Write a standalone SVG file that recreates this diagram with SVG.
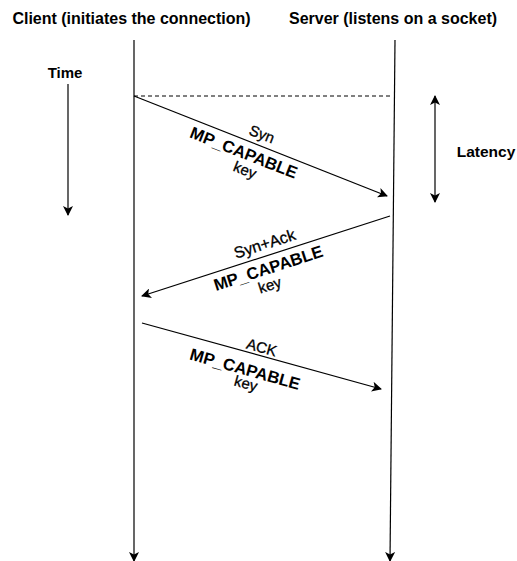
<svg xmlns="http://www.w3.org/2000/svg" width="517" height="561" viewBox="0 0 517 561">
<style>
text{font-family:"Liberation Sans",Arial,sans-serif;fill:#000}
.h{font-size:16px;font-weight:bold}
.b{font-weight:bold;font-size:16.7px}
.n{font-size:15px;stroke:#000;stroke-width:0.3}
.l{stroke:#000;stroke-width:1.2;fill:none}
</style>
<defs>
<marker id="ah" markerWidth="10" markerHeight="10" refX="9" refY="5" orient="auto" markerUnits="userSpaceOnUse">
<path d="M0,0 L10,5 L0,10 L2.5,5 Z" fill="#000"/>
</marker>
<marker id="as" markerWidth="10" markerHeight="10" refX="1" refY="5" orient="auto" markerUnits="userSpaceOnUse">
<path d="M10,0 L0,5 L10,10 L7.5,5 Z" fill="#000"/>
</marker>
</defs>
<rect width="517" height="561" fill="#fff"/>
<g id="client">
<text class="h" x="131.5" y="24" text-anchor="middle">Client (initiates the connection)</text>
<line class="l" x1="134" y1="40" x2="134" y2="561" marker-end="url(#ah)"/>
</g>
<g id="server">
<text class="h" x="393" y="24" text-anchor="middle">Server (listens on a socket)</text>
<line class="l" x1="395" y1="40" x2="390" y2="561" marker-end="url(#ah)"/>
</g>
<g id="time">
<text class="h" x="65" y="78" text-anchor="middle" style="font-size:15px">Time</text>
<line class="l" x1="68" y1="84" x2="68" y2="215" marker-end="url(#ah)"/>
</g>
<g id="latency">
<text class="h" x="486" y="157" text-anchor="middle" style="font-size:15.5px">Latency</text>
<line class="l" x1="435" y1="96" x2="435" y2="202" marker-start="url(#as)" marker-end="url(#ah)"/>
</g>
<g id="connectors">
<line x1="134" y1="96" x2="393" y2="96" stroke="#000" stroke-width="1" stroke-dasharray="4,3"/>
<line class="l" x1="134" y1="96" x2="387" y2="196" marker-end="url(#ah)"/>
<line class="l" x1="390" y1="216" x2="142" y2="296" marker-end="url(#ah)"/>
<line class="l" x1="142" y1="323" x2="381" y2="389" marker-end="url(#ah)"/>
</g>
<g id="syn-label" transform="translate(253,143.1) rotate(21.57)">
<text class="n" x="5" y="-6.5" text-anchor="middle">Syn</text>
<text class="b" x="-5" y="18" text-anchor="middle">MP_CAPABLE</text>
<text class="n" x="2.5" y="33" text-anchor="middle">key</text>
</g>
<g id="synack-label" transform="translate(263.8,256.7) rotate(-17.88)">
<text class="n" x="4.7" y="-6.5" text-anchor="middle" style="font-size:16px">Syn+Ack</text>
<text class="b" x="0.7" y="18" text-anchor="middle">MP_CAPABLE</text>
<text class="n" x="-3" y="34" text-anchor="middle">key</text>
</g>
<g id="ack-label" transform="translate(255.3,355.1) rotate(15.63)">
<text class="n" x="4.1" y="-4" text-anchor="middle">ACK</text>
<text class="b" x="-6.1" y="22" text-anchor="middle">MP_CAPABLE</text>
<text class="n" x="-1.4" y="35" text-anchor="middle">key</text>
</g>
</svg>
